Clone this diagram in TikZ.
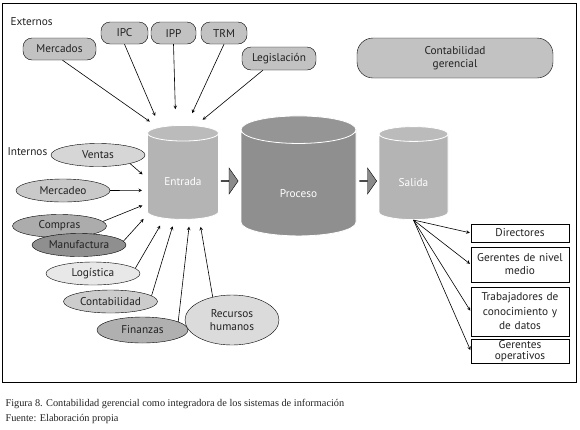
\documentclass[tikz,border=0pt]{standalone}
\usepackage{fontspec}
\setmainfont{PT Sans}
\newfontfamily\captionfont{Liberation Serif}
\usetikzlibrary{shapes.geometric,shapes.arrows}

\definecolor{extgray}{HTML}{C2C2C2}
\definecolor{dbgray}{HTML}{B4B4B4}
\definecolor{dbtop}{HTML}{BBBBBB}
\definecolor{procgray}{HTML}{8F8F8F}
\definecolor{proctop}{HTML}{959595}
\definecolor{flowgray}{HTML}{8A8A8A}
\definecolor{inkgray}{HTML}{222222}

\begin{document}
\begin{tikzpicture}[
    x=1pt, y=-1pt,
    every node/.style={font=\fontsize{11.3}{13}\selectfont, text=inkgray},
    ext/.style={rectangle, draw, rounded corners=9pt, fill=extgray, minimum height=22pt, inner sep=2pt},
    int/.style={ellipse, draw, inner sep=0pt, minimum width=94pt, minimum height=23pt},
    db/.style={cylinder, shape border rotate=90, draw=white, thick, inner sep=0pt, text=white, text depth=0pt, cylinder uses custom fill},
    flow/.style={single arrow, draw, fill=flowgray, minimum height=17pt, minimum width=26pt, single arrow head extend=7pt, single arrow tip angle=110, inner sep=0pt},
    rolebox/.style={rectangle, draw, fill=white, text width=92pt, align=center, inner xsep=3pt, inner ysep=1pt},
    arrow/.style={->, >=stealth, semithick}
]
\useasboundingbox (0,0) rectangle (580,429);
\draw[thick] (2,3) rectangle (576,382);

% externos
\node[anchor=west] (externos) at (7,22) {Externos};
\node[ext, minimum width=73pt] (mercados) at (59.5,49) {Mercados};
\node[ext, minimum width=47pt] (ipc) at (124.5,33) {IPC};
\node[ext, minimum width=45pt] (ipp) at (173.5,33) {IPP};
\node[ext, minimum width=46pt] (trm) at (224,33) {TRM};
\node[ext, minimum width=74pt, minimum height=23pt] (legislacion) at (279,58.5) {Legislación};
\node[ext, rounded corners=16pt, minimum width=196pt, minimum height=40pt, align=center] (gerencial) at (455,58) {Contabilidad\\gerencial};

% sistemas
\node[db, minimum width=71pt, minimum height=94pt, aspect=0.42, text height=18pt, cylinder body fill=dbgray, cylinder end fill=dbtop] (entrada) at (183,176.5) {Entrada};
\node[db, minimum width=115pt, minimum height=120pt, aspect=0.74, text height=28pt, cylinder body fill=procgray, cylinder end fill=proctop] (proceso) at (298.5,183) {Proceso};
\node[db, minimum width=69pt, minimum height=93pt, aspect=0.5, text height=18pt, cylinder body fill=dbgray, cylinder end fill=dbtop] (salida) at (413.5,177) {Salida};
\node[flow] (flowa) at (229.5,181) {};
\node[flow] (flowb) at (368,181) {};

% internos
\node[anchor=west] (internos) at (4,152) {Internos};
\node[int, fill=gray!32] (ventas) at (98,155) {Ventas};
\node[int, fill=gray!42] (mercadeo) at (63,190.5) {Mercadeo};
\node[int, fill=gray!65] (compras) at (59.5,226) {Compras};
\node[int, fill=gray!88] (manufactura) at (79,245) {Manufactura};
\node[int, fill=gray!18] (logistica) at (93,273.5) {Logística};
\node[int, fill=gray!40] (contabilidad) at (110.5,301.5) {Contabilidad};
\node[int, fill=gray!62, minimum width=91pt, minimum height=26pt] (finanzas) at (142.5,330) {Finanzas};
\node[int, fill=gray!28, minimum width=94pt, minimum height=50pt, align=center] (recursos) at (232,320) {Recursos\\humanos};

% usuarios
\node[rolebox, minimum height=18pt] (directores) at (520,233) {Directores};
\node[rolebox, minimum height=35pt] (medio) at (520,264.5) {Gerentes de nivel\\medio};
\node[rolebox, minimum height=49pt, font=\fontsize{11.3}{14.5}\selectfont] (trabajadores) at (520,311.5) {Trabajadores de\\conocimiento y\\de datos};
\node[rolebox, minimum height=24pt, inner ysep=0pt, font=\fontsize{11.3}{11}\selectfont] (operativos) at (520,351) {Gerentes\\operativos};

\draw[arrow, shorten >=10pt] (mercados.-75) -- (entrada.117);
\draw[arrow, shorten >=12pt] (ipc.south) -- (entrada.115);
\draw[arrow, shorten >=16pt] (ipp.south) -- (entrada.98);
\draw[arrow, shorten >=13pt] (trm.south) -- (entrada.86);
\draw[arrow, shorten >=9pt] (legislacion.216) -- (entrada.76);

\draw[arrow, shorten >=6pt] (ventas.-15) -- (entrada.183);
\draw[arrow, shorten >=5pt] (mercadeo.east) -- (entrada.201);
\draw[arrow, shorten >=5pt] (compras.6) -- (entrada.217);
\draw[arrow, shorten >=7pt] (manufactura.5) -- (entrada.227);
\draw[arrow, shorten >=8pt] (logistica.7) -- (entrada.246);
\draw[arrow, shorten >=7pt] (contabilidad.8) -- (entrada.259);
\draw[arrow, shorten >=7pt] (finanzas.13) -- (entrada.279);
\draw[arrow, shorten >=8pt] (recursos.130) -- (entrada.291);

\draw[arrow, shorten >=1pt] (salida.south) -- (directores.west);
\draw[arrow, shorten >=1pt] (salida.south) -- (medio.west);
\draw[arrow, shorten >=1pt] (salida.south) -- (trabajadores.west);
\draw[arrow, shorten >=1pt] (salida.south) -- (operativos.west);

% pie de figura
\node[anchor=west, font=\captionfont\fontsize{10.3}{12}\selectfont] (figura) at (2,404) {Figura 8. Contabilidad gerencial como integradora de los sistemas de información};
\node[anchor=west, font=\captionfont\fontsize{10.3}{12}\selectfont] (fuente) at (2,419) {Fuente: Elaboración propia};
\end{tikzpicture}
\end{document}
